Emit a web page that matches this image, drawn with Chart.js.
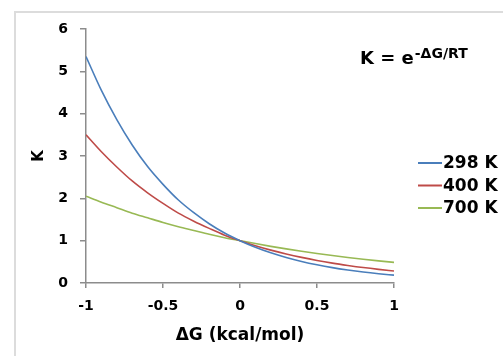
<!DOCTYPE html>
<html>
<head>
<meta charset="utf-8">
<script src="https://cdn.jsdelivr.net/npm/chart.js@4/dist/chart.umd.min.js"></script>
<style>
  html, body { margin: 0; padding: 0; background: #fff; }
  canvas { display: block; }
</style>
</head>
<body>
<canvas id="kChart" width="503" height="356"></canvas>
<script>
// values
const deltaG = [-1, -0.9, -0.8, -0.7, -0.6, -0.5, -0.4, -0.3, -0.2, -0.1, 0,
                 0.1, 0.2, 0.3, 0.4, 0.5, 0.6, 0.7, 0.8, 0.9, 1];
const k298 = [5.35, 4.55, 3.86, 3.26, 2.75, 2.33, 1.96, 1.66, 1.40, 1.18, 1,
              0.845, 0.713, 0.603, 0.509, 0.43, 0.363, 0.307, 0.259, 0.219, 0.185];
const k400 = [3.5, 3.1, 2.74, 2.41, 2.13, 1.88, 1.65, 1.46, 1.29, 1.13, 1,
              0.882, 0.777, 0.686, 0.605, 0.533, 0.47, 0.415, 0.365, 0.322, 0.284];
const k700 = [2.05, 1.91, 1.78, 1.65, 1.54, 1.43, 1.33, 1.24, 1.15, 1.07, 1,
              0.931, 0.866, 0.806, 0.75, 0.698, 0.649, 0.604, 0.562, 0.523, 0.487];
const seriesLabels = ['298 K', '400 K', '700 K'];
const xTicks = [-1, -0.5, 0, 0.5, 1];
const yTicks = [0, 1, 2, 3, 4, 5, 6];

const font = 'DejaVu Sans';
const axisGray = '#8c8c8c';

function points(ys) {
    return deltaG.map((x, i) => ({ x: x, y: ys[i] }));
}

// frame, legend and the equation
const decor = {
    id: 'decor',
    beforeDraw(chart) {
        const ctx = chart.ctx;
        ctx.save();
        ctx.fillStyle = '#fff';
        ctx.fillRect(0, 0, chart.width, chart.height);
        ctx.strokeStyle = '#dcdcdc';
        ctx.lineWidth = 2;
        ctx.strokeRect(15, 12, 600, 600);
        ctx.restore();
    },
    afterDraw(chart) {
        const ctx = chart.ctx;
        ctx.save();
        chart.data.datasets.forEach((ds, i) => {
            const y = 163 + i * 22.5;
            ctx.strokeStyle = ds.borderColor;
            ctx.lineWidth = 2;
            ctx.beginPath();
            ctx.moveTo(418, y);
            ctx.lineTo(442, y);
            ctx.stroke();
            ctx.fillStyle = '#000';
            ctx.font = 'bold 17px "' + font + '"';
            ctx.textBaseline = 'middle';
            ctx.fillText(ds.label, 443, y + 1);
        });

        ctx.fillStyle = '#000';
        ctx.textBaseline = 'alphabetic';
        ctx.font = 'bold 18px "' + font + '"';
        const main = 'K = e';
        ctx.fillText(main, 360, 64);
        const w = ctx.measureText(main).width;
        ctx.font = 'bold 14px "' + font + '"';
        ctx.fillText('-\u0394G/RT', 360 + w + 1, 58);
        ctx.restore();
    }
};

const kChart = new Chart('kChart', {
    type: 'line',
    data: {
        datasets: [
            {
                label: seriesLabels[0],
                data: points(k298),
                borderColor: '#4a7ebb',
                borderWidth: 1.6,
                pointRadius: 0,
                fill: false
            },
            {
                label: seriesLabels[1],
                data: points(k400),
                borderColor: '#be4b48',
                borderWidth: 1.6,
                pointRadius: 0,
                fill: false
            },
            {
                label: seriesLabels[2],
                data: points(k700),
                borderColor: '#98b954',
                borderWidth: 1.6,
                pointRadius: 0,
                fill: false
            }
        ]
    },
    options: {
        responsive: false,
        animation: false,
        cubicInterpolationMode: 'monotone',
        layout: {
            padding: { left: 0, top: 29, right: 109, bottom: 0 }
        },
        plugins: {
            legend: { display: false },
            tooltip: { enabled: false }
        },
        scales: {
            x: {
                type: 'linear',
                min: -1,
                max: 1,
                afterBuildTicks: (scale) => { scale.ticks = xTicks.map(v => ({ value: v })); },
                afterFit: (scale) => { scale.height = 73; },
                ticks: {
                    color: '#000',
                    padding: 10,
                    font: { family: font, size: 14, weight: 'bold' },
                    callback: (v) => String(v)
                },
                grid: {
                    drawOnChartArea: false,
                    drawTicks: true,
                    tickLength: 5,
                    color: axisGray,
                    lineWidth: 1.5
                },
                border: { display: true, color: axisGray, width: 1.5 },
                title: {
                    display: true,
                    text: '\u0394G (kcal/mol)',
                    color: '#000',
                    font: { family: font, size: 17, weight: 'bold' },
                    padding: { top: 0, bottom: 10 }
                }
            },
            y: {
                min: 0,
                max: 6,
                afterBuildTicks: (scale) => { scale.ticks = yTicks.map(v => ({ value: v })); },
                afterFit: (scale) => { scale.width = 86; },
                ticks: {
                    color: '#000',
                    padding: 12,
                    font: { family: font, size: 14, weight: 'bold' },
                    callback: (v) => String(v)
                },
                grid: {
                    drawOnChartArea: false,
                    drawTicks: true,
                    tickLength: 6,
                    color: axisGray,
                    lineWidth: 1.5
                },
                border: { display: true, color: axisGray, width: 1.5 },
                title: {
                    display: true,
                    text: 'K',
                    color: '#000',
                    font: { family: font, size: 15, weight: 'bold' },
                    padding: { top: 30, bottom: 0 }
                }
            }
        }
    },
    plugins: [decor]
});
</script>
</body>
</html>
